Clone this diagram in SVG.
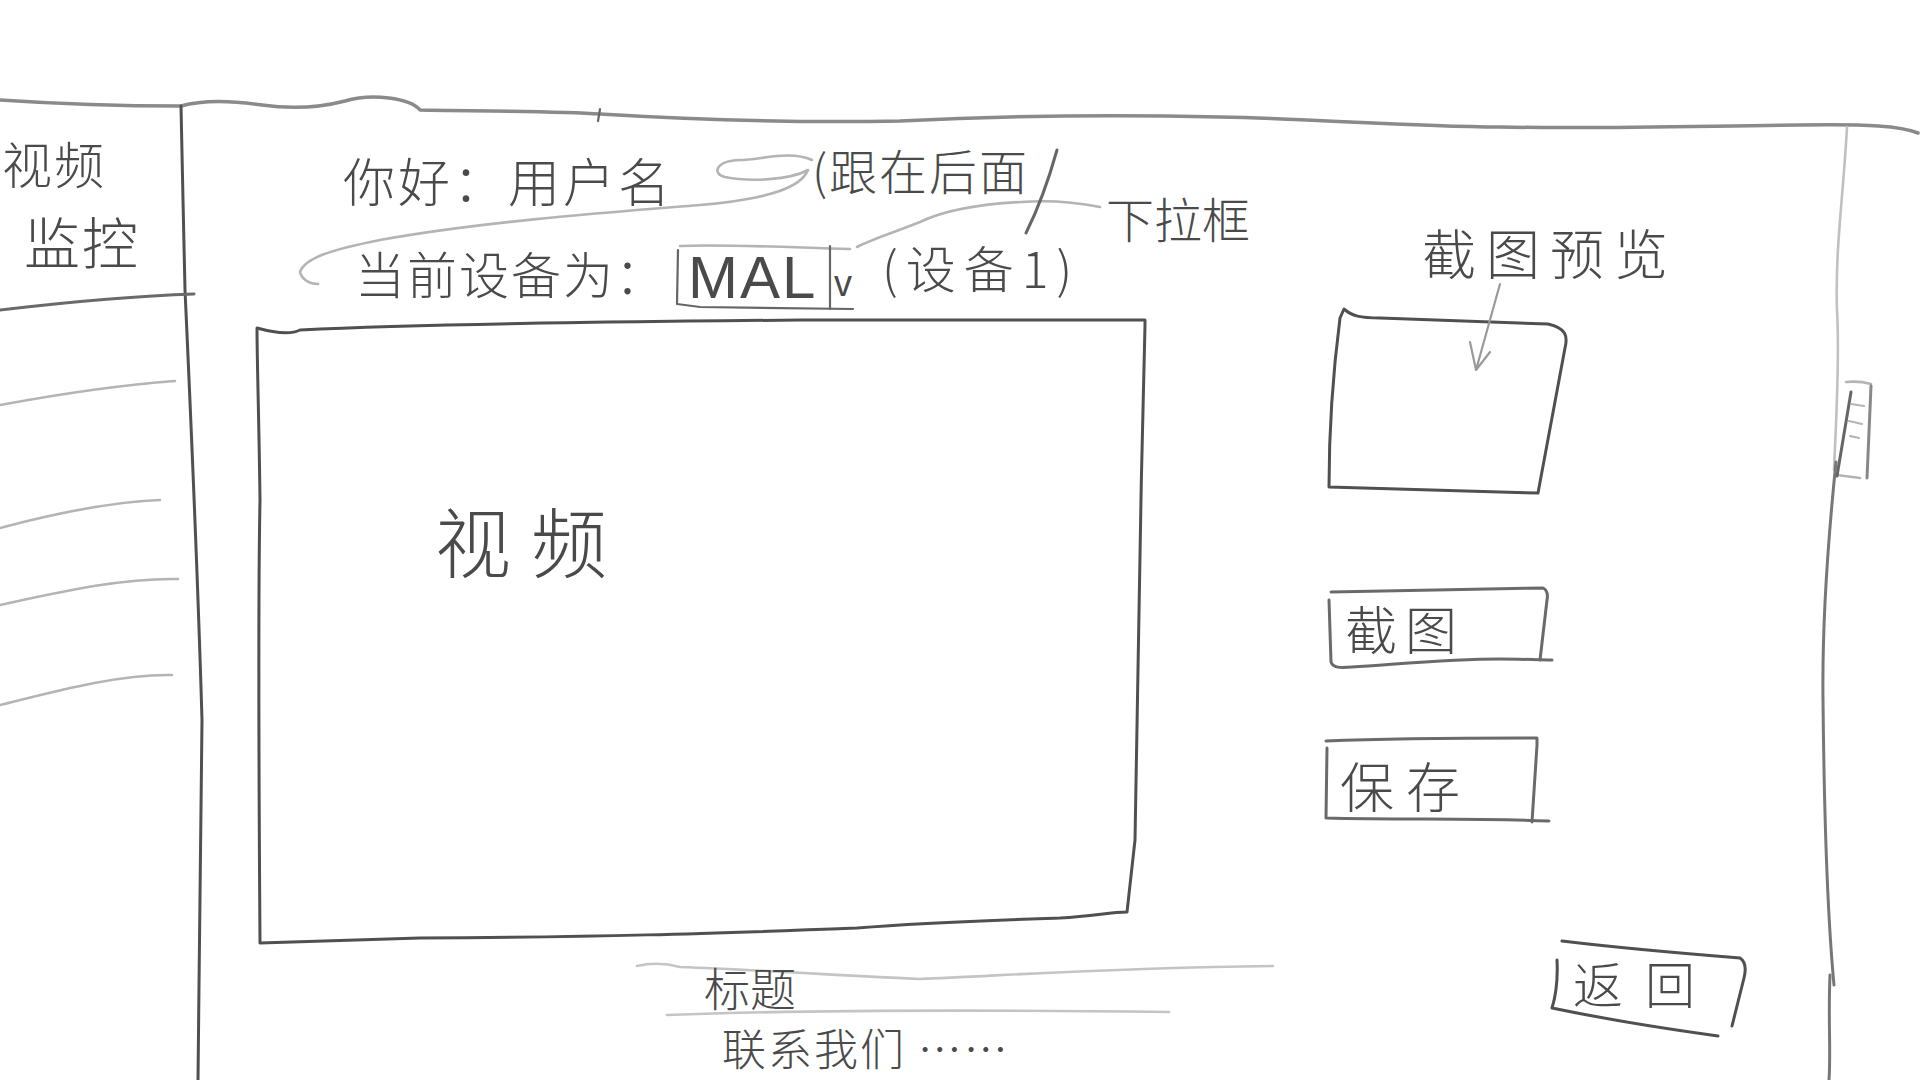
<svg xmlns="http://www.w3.org/2000/svg" width="1920" height="1080" viewBox="0 0 1920 1080">
<style>
.ink{fill:none;stroke:#505050;stroke-width:3;stroke-linecap:round;stroke-linejoin:round}
.thin{fill:none;stroke:#666;stroke-width:2.2;stroke-linecap:round;stroke-linejoin:round}
.light{fill:none;stroke:#b4b4b4;stroke-width:2.6;stroke-linecap:round;stroke-linejoin:round}
.txt{font-family:"Noto Sans CJK SC","Noto Sans",sans-serif;font-weight:300;fill:#4a4a4a}
.lat{font-family:"Liberation Sans",Arial,sans-serif;fill:#4a4a4a}
</style>
<rect width="1920" height="1080" fill="#ffffff"/>

<g id="frame">
  <path class="ink" style="stroke:#8a8a8a;stroke-width:3.5" d="M0,100 C60,104 130,106 181,106 C205,99 235,101 262,105 C290,109 318,108 345,101 C372,93 410,98 420,110 C480,111 560,111 600,114 C700,120 800,123 900,121 C1000,116 1100,114 1220,117 C1320,119 1400,126 1500,127 C1600,129 1700,126 1800,125 C1870,124 1900,126 1918,133"/>
  <path class="thin" d="M600,109 L598,121"/>
  <path class="ink" d="M181,106 L183,200 L185,290 C190,400 197,550 202,720 C201,850 199,960 198,1080"/>
  <path class="light" style="stroke:#c0c0c0" d="M1847,127 C1843,200 1835,250 1837,310 C1840,360 1836,420 1834,470"/>
  <path class="ink" style="stroke:#777" d="M1836,462 C1828,540 1822,620 1823,700 C1824,800 1826,900 1834,985"/>
  <path class="ink" style="stroke:#777" d="M1830,975 C1828,1020 1831,1050 1829,1080"/>
</g>

<g id="sidebar">
  <text class="txt" x="2" y="184" font-size="50" letter-spacing="2">视频</text>
  <text class="txt" x="24" y="264" font-size="56" letter-spacing="2">监控</text>
  <path class="ink" style="stroke:#6a6a6a" d="M0,310 C60,303 130,296 194,294"/>
  <path class="light" d="M0,405 C60,394 120,385 175,381"/>
  <path class="light" d="M0,528 C60,512 110,502 160,500"/>
  <path class="light" d="M0,605 C60,592 120,578 178,579"/>
  <path class="light" d="M0,705 C60,690 120,674 172,675"/>
</g>

<g id="header">
  <text class="txt" x="343" y="202" font-size="52" letter-spacing="3">你好：用户名</text>
  <text class="txt" x="812" y="190" font-size="48" letter-spacing="2">(跟在后面</text>
  <text class="txt" x="355" y="294" font-size="50" letter-spacing="2">当前设备为：</text>
  <text class="txt" x="882" y="288" font-size="50" letter-spacing="8">(设备1)</text>
  <text class="txt" x="1106" y="238" font-size="48">下拉框</text>
</g>

<g id="dropdown">
  <path class="light" d="M680,246 C720,244 780,247 850,249"/>
  <path class="thin" d="M678,250 L677,304 L700,307 L853,309"/>
  <path class="thin" d="M830,246 L830,309"/>
  <text class="lat" x="688" y="298" font-size="60" letter-spacing="2" fill="#555">MAL</text>
  <text class="lat" x="834" y="296" font-size="36">v</text>
</g>

<g id="video">
  <path class="ink" d="M257,328 C275,333 290,335 300,330 C420,324 600,322 800,320 C950,319 1050,320 1145,320 L1145,325 C1140,500 1138,700 1135,840 L1127,912 C1110,912 1095,916 1060,918 C1000,920 930,922 857,928 C700,934 600,937 420,938 C350,940 300,942 260,943 C259,800 258,600 260,500 C259,420 257,360 257,328 Z"/>
  <text class="txt" x="435" y="572" font-size="76" letter-spacing="20">视频</text>
</g>

<g id="preview">
  <text class="txt" x="1422" y="275" font-size="54" letter-spacing="10">截图预览</text>
  <path class="ink" d="M1344,309 C1352,316 1360,318 1380,318 L1548,324 C1566,328 1568,336 1565,348 L1538,493 L1500,492 L1329,487 C1329,440 1332,380 1340,318 Z"/>
</g>

<g id="btn-screenshot">
  <path class="ink" style="stroke:#6a6a6a" d="M1331,592 L1543,588 C1547,590 1548,595 1547,600 L1540,660"/>
  <path class="ink" style="stroke:#6a6a6a" d="M1329,600 L1331,662 C1333,668 1340,668 1352,667 C1400,664 1450,659 1500,659 C1520,659 1540,660 1552,660"/>
  <text class="txt" x="1345" y="650" font-size="52" letter-spacing="8">截图</text>
</g>

<g id="btn-save">
  <path class="ink" style="stroke:#6a6a6a" d="M1326,741 C1400,738 1480,738 1537,738 L1537,745 L1532,822"/>
  <path class="ink" style="stroke:#6a6a6a" d="M1327,748 L1326,818 C1400,820 1480,818 1549,821"/>
  <text class="txt" x="1340" y="808" font-size="54" letter-spacing="12">保存</text>
</g>

<g id="btn-back">
  <path class="ink" d="M1562,941 C1620,948 1690,954 1740,958 C1746,962 1746,970 1744,978 L1732,1026"/>
  <path class="ink" d="M1557,960 C1558,980 1556,995 1552,1008 C1600,1018 1660,1028 1718,1036"/>
  <text class="txt" x="1573" y="1004" font-size="50" letter-spacing="22">返回</text>
</g>

<g id="scrollbar">
  <path class="light" d="M1846,382 C1855,381 1864,382 1871,384"/>
  <path class="ink" style="stroke:#888" d="M1871,386 L1867,478"/>
  <path class="light" d="M1837,475 L1860,478"/>
  <path class="ink" style="stroke:#666" d="M1851,392 L1837,476"/>
  <path class="light" style="stroke-width:2" d="M1851,404 L1864,406 M1849,421 L1862,424 M1850,436 L1859,438"/>
</g>

<g id="footer">
  <path class="light" style="stroke:#c4c4c4" d="M637,966 C650,963 665,963 680,967 C760,970 850,976 920,979 C1000,976 1100,968 1273,966"/>
  <path class="light" style="stroke:#c4c4c4" d="M667,1015 C800,1010 1000,1010 1169,1012"/>
  <text class="txt" x="704" y="1006" font-size="46">标题</text>
  <text class="txt" x="722" y="1066" font-size="44" letter-spacing="2">联系我们 ……</text>
</g>

<g id="connectors">
  <path class="light" d="M812,160 C790,150 760,160 740,160 C715,161 712,174 725,177 C750,182 790,180 808,170 C800,190 760,200 700,205 C600,213 480,222 380,240 C330,250 305,258 300,272 C302,280 310,284 318,284"/>
  <path class="light" d="M1100,207 C1080,203 1050,200 1021,202 C980,204 945,210 920,222 C895,232 870,240 857,247"/>
  <path class="ink" style="stroke:#666" d="M1057,150 C1050,175 1040,205 1026,233"/>
  <path class="thin" style="stroke:#9a9a9a" d="M1500,284 L1476,370 M1470,342 L1476,370 L1490,352"/>
</g>
</svg>
